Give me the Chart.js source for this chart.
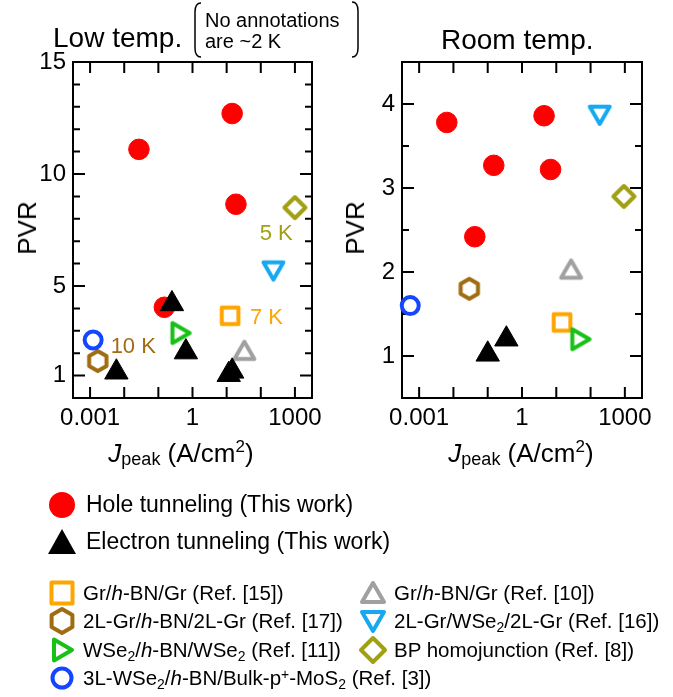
<!DOCTYPE html>
<html>
<head>
<meta charset="utf-8">
<script src="https://cdn.jsdelivr.net/npm/chart.js@4.4.1/dist/chart.umd.min.js"></script>
<style>
  body { margin:0; width:673px; height:697px; position:relative; overflow:hidden; background:#fff;
         font-family:"Liberation Sans", Arial, sans-serif; color:#000; }
  .t { position:absolute; white-space:nowrap; line-height:1; }
  canvas { position:absolute; top:0; }
  #low { left:0; }
  #room { left:330px; }
  .sub { font-size:0.68em; position:relative; top:0.28em; }
  .sup { font-size:0.68em; position:relative; top:-0.45em; }
  svg { position:absolute; left:0; top:0; }
</style>
</head>
<body>
<canvas id="low" width="330" height="442"></canvas>
<canvas id="room" width="343" height="442"></canvas>

<div class="t" style="left:53px;top:24px;font-size:28px">Low temp.</div>
<div class="t" style="left:441px;top:26px;font-size:28px">Room temp.</div>
<div class="t" style="left:205px;top:10px;font-size:20px">No annotations</div>
<div class="t" style="left:205px;top:31px;font-size:20px">are ~2 K</div>

<div class="t" style="left:27px;top:228px;font-size:26px;transform:translate(-50%,-50%) rotate(-90deg)">PVR</div>
<div class="t" style="left:355px;top:228px;font-size:26px;transform:translate(-50%,-50%) rotate(-90deg)">PVR</div>
<div class="t" style="left:81px;width:200px;text-align:center;top:440px;font-size:26px"><i>J</i><span style="font-size:18px;position:relative;top:3px">peak</span> (A/cm<span style="font-size:17px;position:relative;top:-10px">2</span>)</div>
<div class="t" style="left:421px;width:200px;text-align:center;top:440px;font-size:26px"><i>J</i><span style="font-size:18px;position:relative;top:3px">peak</span> (A/cm<span style="font-size:17px;position:relative;top:-10px">2</span>)</div>

<svg width="673" height="697">
  <g fill="none" stroke="#000" stroke-width="1.5">
    <path d="M201 3 Q195 3 195 12 L195 48 Q195 57 201 57"/>
    <path d="M352 2 Q358 2 358 11 L358 48 Q358 57 352 57"/>
  </g>
  <circle cx="62" cy="505" r="13" fill="#ff0000"/>
  <polygon points="48,554 76,554 62,529" fill="#000"/>
  <g fill="#fff" stroke-width="4" stroke-linejoin="round">
    <rect x="51.5" y="582.5" width="21" height="21" stroke="#ffa500"/>
    <polygon points="62,609 72.4,615 72.4,627 62,633 51.6,627 51.6,615" stroke="#a06c12"/>
    <polygon points="54,639.5 54,660.5 72,650" stroke="#18c018"/>
    <circle cx="62" cy="678" r="9.5" stroke="#1446ff"/>
    <polygon points="362,602 384,602 373,583" stroke="#a0a0a0"/>
    <polygon points="362,612 384,612 373,631" stroke="#16a8f0"/>
    <polygon points="373,638 385,650 373,662 361,650" stroke="#a0a012"/>
  </g>
</svg>

<div class="t" style="left:86px;top:493px;font-size:23px">Hole tunneling (This work)</div>
<div class="t" style="left:86px;top:530px;font-size:23px">Electron tunneling (This work)</div>
<div class="t" style="left:83px;top:583px;font-size:20.5px">Gr/<i>h</i>-BN/Gr (Ref. [15])</div>
<div class="t" style="left:83px;top:611px;font-size:20.5px">2L-Gr/<i>h</i>-BN/2L-Gr (Ref. [17])</div>
<div class="t" style="left:83px;top:640px;font-size:20.5px">WSe<span class="sub">2</span>/<i>h</i>-BN/WSe<span class="sub">2</span> (Ref. [11])</div>
<div class="t" style="left:83px;top:668px;font-size:20.5px">3L-WSe<span class="sub">2</span>/<i>h</i>-BN/Bulk-p<span class="sup">+</span>-MoS<span class="sub">2</span> (Ref. [3])</div>
<div class="t" style="left:394px;top:583px;font-size:20.5px">Gr/<i>h</i>-BN/Gr (Ref. [10])</div>
<div class="t" style="left:394px;top:611px;font-size:20.5px">2L-Gr/WSe<span class="sub">2</span>/2L-Gr (Ref. [16])</div>
<div class="t" style="left:394px;top:640px;font-size:20.5px">BP homojunction (Ref. [8])</div>

<script>
// x axis (Jpeak, A/cm2) decade ticks
const xTicks = [0.001, 0.01, 0.1, 1, 10, 100, 1000];
const xTickLabels = ['0.001', '', '', '1', '', '', '1000'];
const lowYLabels = [1, 5, 10, 15];
const roomYLabels = [1, 2, 3, 4];

// Low temp. panel
const lowHoleX = [0.027, 14.5, 18.7, 0.15];
const lowHoleY = [11.1, 12.7, 8.65, 4.05];
const lowElecX = [0.25, 0.0059, 0.64, 11.5, 14.5];
const lowElecY = [4.2, 1.15, 2.05, 1.04, 1.19];
// refs in order: [15], [17], [11], [3], [10], [16], [8]
const lowRefX = [12.6, 0.00168, 0.38, 0.00123, 33, 234, 1000];
const lowRefY = [3.67, 1.65, 2.9, 2.59, 2.0, 5.8, 8.5];

// Room temp. panel
const roomHoleX = [0.0064, 0.15, 4.4, 6.8, 0.042];
const roomHoleY = [3.78, 3.27, 3.86, 3.22, 2.42];
const roomElecX = [0.1, 0.35];
const roomElecY = [1.02, 1.2];
const roomRefX = [14.7, 0.029, 43, 0.00055, 27, 185, 940];
const roomRefY = [1.4, 1.8, 1.2, 1.6, 2.0, 3.9, 2.9];

// temperature notes on the low temp. panel
const noteText = ['7 K', '10 K', '5 K'];
const noteX = [48, 0.004, 93];
const noteY = [3.58, 2.29, 7.33];
const noteColor = ['#ffa500', '#a06c12', '#a0a012'];

const refColors = ['#ffa500', '#a06c12', '#18c018', '#1446ff', '#a0a0a0', '#16a8f0', '#a0a012'];
const refShape = ['sq', 'hex', 'tri', 'circle', 'tri', 'tri', 'dia'];
const refRot = [45, 0, 90, 0, 0, 180, 0];
const refR = [11.8, 10, 11.5, 8.5, 11.5, 11.5, 10.5];

const FONT = "'Liberation Sans', Arial, sans-serif";

function markerImage(shape, color, r, rot) {
  const lw = 4, s = Math.ceil(2 * r + lw + 4);
  const c = document.createElement('canvas');
  c.width = c.height = s;
  const g = c.getContext('2d');
  g.translate(s / 2, s / 2);
  g.rotate(rot * Math.PI / 180);
  const n = shape === 'hex' ? 6 : shape === 'tri' ? 3 : 4;
  g.beginPath();
  for (let i = 0; i < n; i++) {
    const a = 2 * Math.PI * i / n - Math.PI / 2;
    g.lineTo(r * Math.cos(a), r * Math.sin(a));
  }
  g.closePath();
  g.fillStyle = '#fff';
  g.fill();
  g.lineJoin = 'round';
  g.lineWidth = lw;
  g.strokeStyle = color;
  g.stroke();
  return c;
}

const frameTicks = {
  id: 'frameTicks',
  beforeDatasetsDraw(chart) {
    const { ctx, chartArea: a } = chart;
    const x = chart.scales.x, y = chart.scales.y;
    ctx.save();
    ctx.strokeStyle = '#000';
    ctx.lineWidth = 2;
    ctx.beginPath();
    x.ticks.forEach(t => {
      const p = x.getPixelForValue(t.value);
      ctx.moveTo(p, a.bottom); ctx.lineTo(p, a.bottom - 11);
      ctx.moveTo(p, a.top); ctx.lineTo(p, a.top + 11);
    });
    y.ticks.forEach(t => {
      const p = y.getPixelForValue(t.value);
      const len = t.label ? 12 : 7;
      ctx.moveTo(a.left, p); ctx.lineTo(a.left + len, p);
      ctx.moveTo(a.right, p); ctx.lineTo(a.right - len, p);
    });
    ctx.stroke();
    ctx.strokeRect(a.left, a.top, a.right - a.left, a.bottom - a.top);
    ctx.restore();
  },
  afterDatasetsDraw(chart, args, opts) {
    if (!opts.notes) return;
    const { ctx } = chart;
    ctx.save();
    ctx.font = '22px ' + FONT;
    ctx.textAlign = 'left';
    ctx.textBaseline = 'middle';
    opts.notes.text.forEach((s, i) => {
      ctx.fillStyle = opts.notes.color[i];
      ctx.fillText(s, chart.scales.x.getPixelForValue(opts.notes.x[i]),
                      chart.scales.y.getPixelForValue(opts.notes.y[i]));
    });
    ctx.restore();
  }
};

function datasets(holeX, holeY, elecX, elecY, refX, refY) {
  const ds = [
    { data: elecX.map((v, i) => ({ x: v, y: elecY[i] })), pointStyle: 'triangle', pointRadius: 13.5,
      backgroundColor: '#000', borderColor: '#000', borderWidth: 1, order: 0 },
    { data: holeX.map((v, i) => ({ x: v, y: holeY[i] })), pointStyle: 'circle', pointRadius: 10.3,
      backgroundColor: '#ff0000', borderColor: '#ff0000', borderWidth: 1, order: 1 }
  ];
  refX.forEach((v, i) => {
    const d = { data: [{ x: v, y: refY[i] }], order: 10 - i, backgroundColor: '#fff',
                borderColor: refColors[i], borderWidth: 4, pointRadius: refR[i] };
    d.pointStyle = refShape[i] === 'circle' ? 'circle' : markerImage(refShape[i], refColors[i], refR[i], refRot[i]);
    ds.push(d);
  });
  ds.forEach(d => { d.clip = false; d.showLine = false; });
  return ds;
}

function makeChart(id, ds, yMin, yMax, yStep, yLabels, yWidth, padRight, notes) {
  return new Chart(document.getElementById(id), {
    type: 'scatter',
    data: { datasets: ds },
    options: {
      responsive: false,
      animation: false,
      events: [],
      devicePixelRatio: 1,
      layout: { padding: { left: 0, top: 62, right: padRight, bottom: 0 } },
      plugins: { legend: { display: false }, tooltip: { enabled: false }, frameTicks: { notes: notes } },
      scales: {
        x: {
          type: 'logarithmic', min: Math.pow(10, -3.5), max: Math.pow(10, 3.5), bounds: 'data',
          grid: { display: false, drawTicks: false }, border: { display: false },
          afterBuildTicks: s => { s.ticks = xTicks.map(v => ({ value: v })); },
          afterFit: s => { s.height = 44; },
          ticks: { autoSkip: false, maxRotation: 0, padding: 6, color: '#000',
                   font: { size: 24, family: FONT },
                   callback: (v, i) => xTickLabels[i] }
        },
        y: {
          min: yMin, max: yMax,
          grid: { display: false, drawTicks: false }, border: { display: false },
          afterFit: s => { s.width = yWidth; },
          ticks: { stepSize: yStep, autoSkip: false, padding: 7, color: '#000',
                   font: { size: 24, family: FONT },
                   callback: v => yLabels.includes(v) ? String(v) : '' }
        }
      }
    },
    plugins: [frameTicks]
  });
}

makeChart('low', datasets(lowHoleX, lowHoleY, lowElecX, lowElecY, lowRefX, lowRefY),
          0, 15, 1, lowYLabels, 73, 18,
          { text: noteText, x: noteX, y: noteY, color: noteColor });
makeChart('room', datasets(roomHoleX, roomHoleY, roomElecX, roomElecY, roomRefX, roomRefY),
          0.5, 4.5, 0.5, roomYLabels, 72, 31, null);
</script>
</body>
</html>
